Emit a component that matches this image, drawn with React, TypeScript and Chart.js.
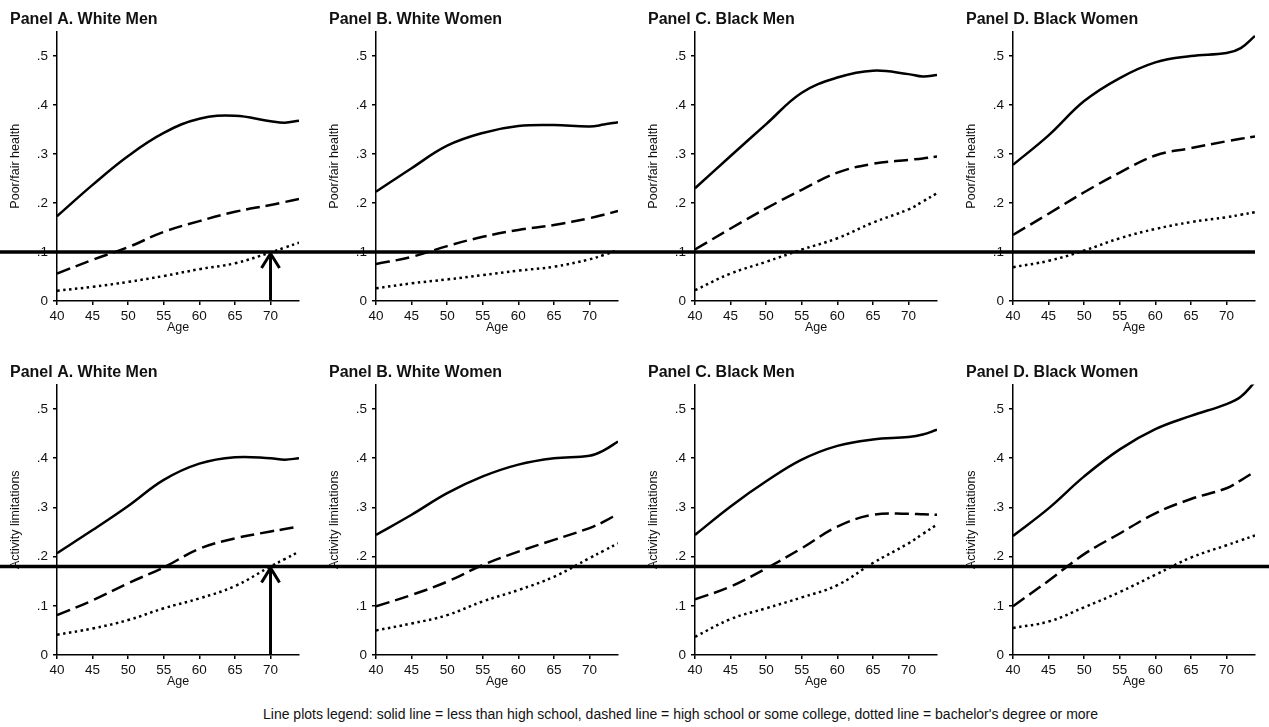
import React, { useEffect, useRef } from "react";
import { Chart, registerables } from "chart.js";

Chart.register(...registerables);

// ---------- data ----------
const AGES = [40, 45, 50, 55, 60, 65, 70, 72, 74];
const X_TICKS = [40, 45, 50, 55, 60, 65, 70];
const Y_TICKS = [0, 0.1, 0.2, 0.3, 0.4, 0.5];
const Y_TICK_LABELS = ["0", ".1", ".2", ".3", ".4", ".5"];

const PANEL_TITLES = [
  "Panel A. White Men",
  "Panel B. White Women",
  "Panel C. Black Men",
  "Panel D. Black Women",
];
const Y_TITLE_TOP = "Poor/fair health";
const Y_TITLE_BOTTOM = "Activity limitations";
const X_TITLE = "Age";
const LEGEND_TEXT =
  "Line plots legend: solid line = less than high school, dashed line = high school or some college, dotted line = bachelor's degree or more";

// Poor/fair health (top row)
const pfWhiteMenLessHS = [0.173, 0.237, 0.296, 0.343, 0.372, 0.378, 0.367, 0.364, 0.368];
const pfWhiteMenHSCollege = [0.056, 0.084, 0.11, 0.141, 0.163, 0.182, 0.196, 0.202, 0.208];
const pfWhiteMenBachelor = [0.021, 0.029, 0.039, 0.051, 0.065, 0.077, 0.099, 0.109, 0.119];

const pfWhiteWomenLessHS = [0.223, 0.271, 0.317, 0.343, 0.357, 0.359, 0.356, 0.36, 0.365];
const pfWhiteWomenHSCollege = [0.0755, 0.09, 0.112, 0.131, 0.145, 0.155, 0.169, 0.176, 0.184];
const pfWhiteWomenBachelor = [0.026, 0.036, 0.044, 0.053, 0.062, 0.07, 0.085, 0.094, 0.104];

const pfBlackMenLessHS = [0.23, 0.296, 0.361, 0.425, 0.456, 0.47, 0.463, 0.458, 0.461];
const pfBlackMenHSCollege = [0.105, 0.148, 0.189, 0.227, 0.262, 0.28, 0.288, 0.291, 0.295];
const pfBlackMenBachelor = [0.022, 0.056, 0.08, 0.105, 0.128, 0.16, 0.187, 0.203, 0.22];

const pfBlackWomenLessHS = [0.278, 0.338, 0.408, 0.455, 0.487, 0.5, 0.506, 0.516, 0.541];
const pfBlackWomenHSCollege = [0.135, 0.178, 0.222, 0.262, 0.297, 0.312, 0.326, 0.331, 0.336];
const pfBlackWomenBachelor = [0.069, 0.082, 0.103, 0.128, 0.147, 0.161, 0.171, 0.176, 0.181];

// Activity limitations (bottom row)
const alWhiteMenLessHS = [0.207, 0.254, 0.303, 0.356, 0.389, 0.402, 0.4, 0.397, 0.4];
const alWhiteMenHSCollege = [0.081, 0.111, 0.146, 0.178, 0.216, 0.237, 0.251, 0.256, 0.261];
const alWhiteMenBachelor = [0.041, 0.054, 0.071, 0.095, 0.115, 0.14, 0.18, 0.195, 0.21];

const alWhiteWomenLessHS = [0.244, 0.285, 0.329, 0.363, 0.387, 0.4, 0.405, 0.416, 0.434];
const alWhiteWomenHSCollege = [0.099, 0.122, 0.149, 0.183, 0.21, 0.234, 0.258, 0.271, 0.287];
const alWhiteWomenBachelor = [0.05, 0.064, 0.081, 0.109, 0.132, 0.159, 0.197, 0.212, 0.227];

const alBlackMenLessHS = [0.244, 0.302, 0.353, 0.397, 0.425, 0.438, 0.443, 0.448, 0.458];
const alBlackMenHSCollege = [0.113, 0.139, 0.176, 0.217, 0.261, 0.285, 0.287, 0.286, 0.285];
const alBlackMenBachelor = [0.037, 0.073, 0.095, 0.117, 0.142, 0.187, 0.227, 0.246, 0.265];

const alBlackWomenLessHS = [0.242, 0.298, 0.363, 0.418, 0.459, 0.486, 0.51, 0.525, 0.555];
const alBlackWomenHSCollege = [0.099, 0.151, 0.205, 0.247, 0.288, 0.317, 0.339, 0.355, 0.373];
const alBlackWomenBachelor = [0.055, 0.068, 0.097, 0.128, 0.163, 0.198, 0.223, 0.233, 0.243];

const REF_POOR_FAIR = 0.1;
const REF_ACTIVITY = 0.18;
const ARROW_AGE = 70;

// ---------- styling / layout ----------
const FONT = "'Liberation Sans', Arial, Helvetica, sans-serif";
const AXIS_X = [57, 376, 695, 1013];
const PLOT_RIGHT_IN_CANVAS = 299; // 57 + 242
const TOTAL_W = 1269;

const refPlugin = {
  id: "refLine",
  afterDraw(chart: any, _args: any, opts: any) {
    const { ctx, chartArea, scales } = chart;
    const y = scales.y.getPixelForValue(opts.value);
    ctx.save();
    ctx.strokeStyle = "#000";
    ctx.lineWidth = 3.5;
    ctx.beginPath();
    ctx.moveTo(0, y);
    ctx.lineTo(opts.toEdge ? chart.width : chartArea.right, y);
    ctx.stroke();
    if (opts.arrowAge != null) {
      const x = scales.x.getPixelForValue(opts.arrowAge);
      const y0 = scales.y.getPixelForValue(0);
      ctx.lineWidth = 3;
      ctx.beginPath();
      ctx.moveTo(x, y0);
      ctx.lineTo(x, y + 2);
      ctx.stroke();
      ctx.beginPath();
      ctx.moveTo(x - 9, y + 16);
      ctx.lineTo(x, y + 1.5);
      ctx.lineTo(x + 9, y + 16);
      ctx.stroke();
    }
    ctx.restore();
  },
};

type PanelProps = {
  left: number;
  top: number;
  width: number;
  height: number;
  title: string;
  yTitle: string;
  solid: number[];
  dashed: number[];
  dotted: number[];
  refValue: number;
  arrow: boolean;
  toEdge: boolean;
  titlePadTop: number;
  titlePadBottom: number;
};

function Panel(p: PanelProps) {
  const ref = useRef<HTMLCanvasElement | null>(null);
  useEffect(() => {
    if (!ref.current) return;
    const mk = (data: number[], dash: number[]) => ({
      data: AGES.map((a, i) => ({ x: a, y: data[i] })),
      borderColor: "#000",
      borderWidth: 2.5,
      borderDash: dash,
      pointRadius: 0,
      fill: false,
      tension: 0.4,
    });
    const chart = new Chart(ref.current, {
      type: "line",
      data: {
        datasets: [mk(p.solid, []), mk(p.dashed, [14, 6]), mk(p.dotted, [2.5, 3.5])],
      },
      options: {
        animation: false,
        responsive: true,
        maintainAspectRatio: false,
        events: [],
        layout: { padding: { left: 10, right: p.width - PLOT_RIGHT_IN_CANVAS, top: 0, bottom: 0 } },
        scales: {
          x: {
            type: "linear",
            min: 40,
            max: 74,
            afterBuildTicks: (s: any) => {
              s.ticks = X_TICKS.map((v) => ({ value: v }));
            },
            afterFit: (s: any) => {
              s.height = 34;
            },
            ticks: {
              font: { family: FONT, size: 13.5 },
              color: "#111",
              padding: 2.7,
              maxRotation: 0,
              autoSkip: false,
            },
            grid: { drawOnChartArea: false, drawTicks: true, tickLength: 4, color: "#000", lineWidth: 1.5 },
            border: { display: true, color: "#000", width: 1.5 },
            title: { display: true, text: X_TITLE, font: { family: FONT, size: 12.5 }, color: "#111", padding: 0 },
          },
          y: {
            type: "linear",
            min: 0,
            max: 0.55,
            afterBuildTicks: (s: any) => {
              s.ticks = Y_TICKS.map((v) => ({ value: v }));
            },
            afterFit: (s: any) => {
              s.width = 47;
            },
            ticks: {
              font: { family: FONT, size: 13.5 },
              color: "#111",
              padding: 5,
              callback: (v: any) => {
                const i = Y_TICKS.findIndex((t) => Math.abs(t - Number(v)) < 1e-6);
                return i >= 0 ? Y_TICK_LABELS[i] : "";
              },
            },
            grid: { drawOnChartArea: false, drawTicks: true, tickLength: 4, color: "#000", lineWidth: 1.5 },
            border: { display: true, color: "#000", width: 1.5 },
            title: {
              display: true,
              text: p.yTitle,
              font: { family: FONT, size: 12.5 },
              color: "#111",
              padding: { top: -1.5, bottom: 0 },
            },
          },
        },
        plugins: {
          legend: { display: false },
          tooltip: { enabled: false },
          title: {
            display: true,
            text: p.title,
            align: "start",
            color: "#111",
            font: { family: FONT, size: 16, weight: "bold" },
            padding: { top: p.titlePadTop, bottom: p.titlePadBottom },
          },
          refLine: { value: p.refValue, arrowAge: p.arrow ? ARROW_AGE : null, toEdge: p.toEdge },
        } as any,
      },
      plugins: [refPlugin],
    } as any);
    return () => chart.destroy();
  }, []);
  return (
    <div style={{ position: "absolute", left: p.left, top: p.top, width: p.width, height: p.height }}>
      <canvas ref={ref} />
    </div>
  );
}

const TOP_SERIES = [
  [pfWhiteMenLessHS, pfWhiteMenHSCollege, pfWhiteMenBachelor],
  [pfWhiteWomenLessHS, pfWhiteWomenHSCollege, pfWhiteWomenBachelor],
  [pfBlackMenLessHS, pfBlackMenHSCollege, pfBlackMenBachelor],
  [pfBlackWomenLessHS, pfBlackWomenHSCollege, pfBlackWomenBachelor],
];
const BOTTOM_SERIES = [
  [alWhiteMenLessHS, alWhiteMenHSCollege, alWhiteMenBachelor],
  [alWhiteWomenLessHS, alWhiteWomenHSCollege, alWhiteWomenBachelor],
  [alBlackMenLessHS, alBlackMenHSCollege, alBlackMenBachelor],
  [alBlackWomenLessHS, alBlackWomenHSCollege, alBlackWomenBachelor],
];

export default function App() {
  const lefts = AXIS_X.map((a) => a - 57);
  const widths = lefts.map((l, i) => (i < 3 ? lefts[i + 1] - l : TOTAL_W - l));
  return (
    <div
      style={{
        position: "absolute",
        left: 0,
        top: 0,
        width: TOTAL_W,
        height: 727,
        background: "#fff",
        overflow: "hidden",
      }}
    >
      {PANEL_TITLES.map((t, i) => (
        <Panel
          key={"top" + i}
          left={lefts[i]}
          top={0}
          width={widths[i]}
          height={335}
          title={t}
          yTitle={Y_TITLE_TOP}
          solid={TOP_SERIES[i][0]}
          dashed={TOP_SERIES[i][1]}
          dotted={TOP_SERIES[i][2]}
          refValue={REF_POOR_FAIR}
          arrow={i === 0}
          toEdge={i < 3}
          titlePadTop={10.4}
          titlePadBottom={1.9}
        />
      ))}
      {PANEL_TITLES.map((t, i) => (
        <Panel
          key={"bot" + i}
          left={lefts[i]}
          top={355}
          width={widths[i]}
          height={334}
          title={t}
          yTitle={Y_TITLE_BOTTOM}
          solid={BOTTOM_SERIES[i][0]}
          dashed={BOTTOM_SERIES[i][1]}
          dotted={BOTTOM_SERIES[i][2]}
          refValue={REF_ACTIVITY}
          arrow={i === 0}
          toEdge={true}
          titlePadTop={8.4}
          titlePadBottom={1.8}
        />
      ))}
      <div
        style={{
          position: "absolute",
          left: 263,
          top: 706,
          fontFamily: FONT,
          fontSize: 14,
          color: "#111",
          whiteSpace: "nowrap",
        }}
      >
        {LEGEND_TEXT}
      </div>
    </div>
  );
}
